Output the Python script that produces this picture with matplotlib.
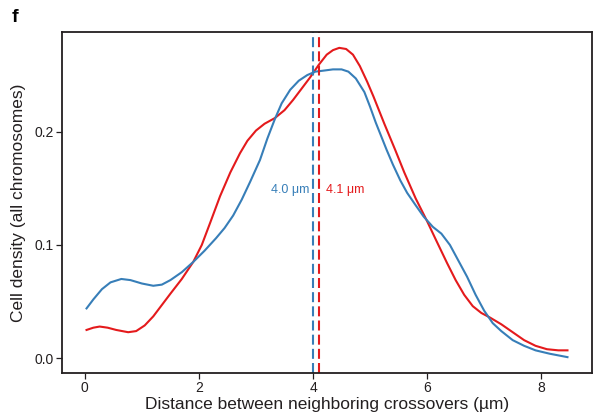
import matplotlib
matplotlib.use('Agg')
import matplotlib.pyplot as plt

plt.rcParams['font.family'] = ['Liberation Sans', 'DejaVu Sans']

# Density curves
blue_x = [0.03, 0.15, 0.30, 0.45, 0.64, 0.80, 1.00, 1.20, 1.35, 1.50, 1.70, 1.90,
          2.10, 2.30, 2.45, 2.60, 2.75, 2.90, 3.07, 3.20, 3.33, 3.45, 3.60, 3.75,
          3.90, 4.04, 4.20, 4.35, 4.50, 4.62, 4.75, 4.90, 5.00, 5.10, 5.29, 5.40,
          5.53, 5.65, 5.80, 5.94, 6.10, 6.25, 6.40, 6.55, 6.70, 6.85, 7.00, 7.15,
          7.30, 7.50, 7.70, 7.90, 8.15, 8.46]
blue_y = [0.044, 0.052, 0.061, 0.067, 0.070, 0.069, 0.066, 0.064, 0.065, 0.069,
          0.076, 0.085, 0.095, 0.106, 0.115, 0.126, 0.140, 0.156, 0.175, 0.194,
          0.211, 0.225, 0.237, 0.245, 0.250, 0.253, 0.254, 0.255, 0.255, 0.253,
          0.247, 0.235, 0.222, 0.208, 0.184, 0.171, 0.157, 0.146, 0.135, 0.125,
          0.116, 0.110, 0.100, 0.086, 0.072, 0.056, 0.042, 0.031, 0.024, 0.016,
          0.011, 0.007, 0.004, 0.001]

red_x = [0.03, 0.15, 0.26, 0.40, 0.55, 0.76, 0.90, 1.05, 1.20, 1.32, 1.50, 1.70,
         1.90, 2.05, 2.20, 2.37, 2.55, 2.72, 2.85, 3.00, 3.15, 3.33, 3.50, 3.65,
         3.80, 3.95, 4.10, 4.24, 4.35, 4.46, 4.58, 4.70, 4.82, 4.95, 5.06, 5.25,
         5.44, 5.60, 5.80, 5.99, 6.15, 6.35, 6.50, 6.65, 6.80, 6.95, 7.10, 7.30,
         7.50, 7.70, 7.90, 8.10, 8.30, 8.46]
red_y = [0.025, 0.027, 0.028, 0.027, 0.025, 0.023, 0.024, 0.029, 0.037, 0.045,
         0.057, 0.070, 0.085, 0.100, 0.120, 0.143, 0.164, 0.181, 0.192, 0.201,
         0.207, 0.212, 0.219, 0.228, 0.238, 0.248, 0.259, 0.268, 0.272, 0.274,
         0.273, 0.268, 0.258, 0.244, 0.231, 0.207, 0.184, 0.164, 0.141, 0.122,
         0.105, 0.084, 0.069, 0.056, 0.046, 0.040, 0.036, 0.030, 0.023, 0.016,
         0.011, 0.008, 0.007, 0.007]

blue_median = 4.0
red_median = 4.1
blue_label = '4.0 μm'
red_label = '4.1 μm'

blue = '#377EB8'
red = '#E41A1C'

fig = plt.figure(figsize=(5.95, 4.19), dpi=100)
ax = fig.add_axes([62 / 595, 1 - 373 / 419, 530 / 595, 341 / 419])

ax.plot(red_x, red_y, color=red, lw=1.5, solid_joinstyle='round')
ax.plot(blue_x, blue_y, color=blue, lw=1.5, solid_joinstyle='round')

ax.axvline(blue_median, color=blue, lw=1.5, dashes=(4.8, 2.0))
ax.axvline(red_median, color=red, lw=1.5, dashes=(4.8, 2.0))

ax.text(blue_median - 0.07, 0.1485, blue_label, color=blue, fontsize=9,
        ha='right', va='center')
ax.text(red_median + 0.13, 0.1485, red_label, color=red, fontsize=9,
        ha='left', va='center')

ax.set_xlim(-0.40, 8.89)
ax.set_ylim(-0.013, 0.288)
ax.set_xticks([0, 2, 4, 6, 8])
ax.set_yticks([0.0, 0.1, 0.2])
ax.set_yticklabels(['0.0', '0.1', '0.2'])

for s in ax.spines.values():
    s.set_color('#231f20')
    s.set_linewidth(1.3)
ax.tick_params(direction='out', length=4, width=0.9, color='#231f20',
               labelsize=10, labelcolor='#231f20', pad=2)

ax.set_xlabel('Distance between neighboring crossovers (µm)', fontsize=12.5,
              color='#231f20', labelpad=1)
ax.set_ylabel('Cell density (all chromosomes)', fontsize=12.5,
              color='#231f20', labelpad=6)

fig.text(12 / 595, 1 - 18 / 419, 'f', fontsize=14, fontweight='bold',
         ha='left', va='center')

fig.savefig('out.png', dpi=100)
